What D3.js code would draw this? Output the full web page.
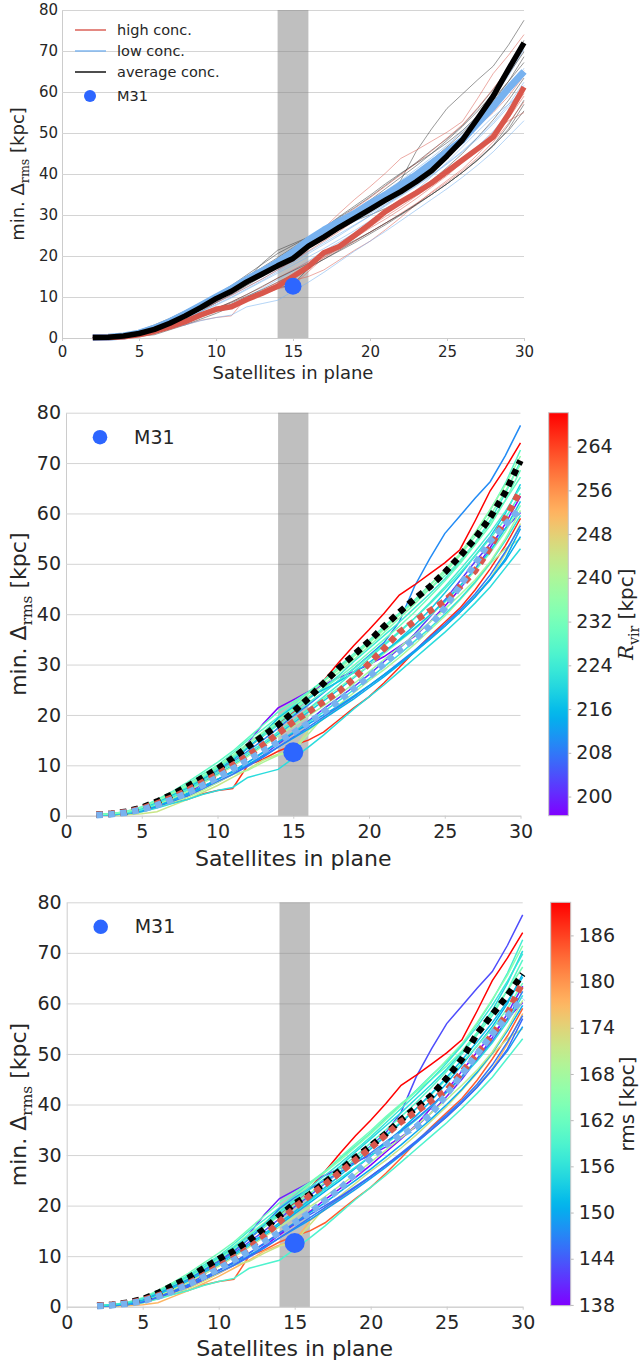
<!DOCTYPE html>
<html>
<head>
<meta charset="utf-8">
<script src="https://cdn.jsdelivr.net/npm/d3@7/dist/d3.min.js"></script>
<style>
  html, body { margin: 0; padding: 0; background: #ffffff; }
  svg text { font-family: "DejaVu Sans", sans-serif; fill: #262626; }
</style>
</head>
<body>
<svg id="fig" width="642" height="1365"></svg>
<script>
// ---------------- data ----------------
const satellites = [2,3,4,5,6,7,8,9,10,11,12,13,14,15,16,17,18,19,20,21,22,23,24,25,26,27,28,29,30];

// minimum plane thickness per halo, one row per host halo
const haloCurves = [
  [0.1,0.2,0.5,1.1,2.2,3.6,5.0,6.8,8.6,10.6,12.8,15.0,17.4,19.8,22.0,24.4,26.8,29.2,31.8,34.4,38.5,45.5,51.0,56.0,59.5,63.0,66.3,71.5,77.5],
  [0.1,0.3,0.6,1.3,2.6,4.0,5.6,7.2,9.0,11.0,13.5,15.8,18.2,20.6,23.4,26.8,30.4,33.8,36.9,40.2,43.8,45.8,48.0,50.2,52.8,58.5,64.5,69.0,74.0],
  [0.1,0.2,0.4,0.9,1.7,2.5,3.2,4.3,5.0,5.4,10.0,11.2,12.8,14.0,15.0,16.6,19.0,21.4,23.6,26.4,29.4,32.6,35.6,38.4,41.2,44.8,49.0,53.6,59.0],
  [0.1,0.2,0.5,1.0,2.0,3.0,4.2,6.4,8.6,11.4,14.4,18.2,21.4,23.0,24.6,26.0,27.4,28.6,30.0,31.6,33.6,35.6,38.4,41.6,45.0,49.0,53.2,58.0,63.4],
  [0.1,0.2,0.4,0.9,1.8,2.8,3.8,5.2,6.6,8.2,10.0,12.0,14.2,16.4,18.8,21.2,23.4,25.6,28.0,30.6,33.2,36.0,39.4,42.8,46.6,50.4,54.0,57.0,60.2],
  [0.2,0.4,0.8,1.6,3.0,4.6,6.2,8.2,10.0,12.4,15.0,17.2,19.6,22.0,24.4,26.8,29.4,31.8,34.4,37.2,40.0,42.8,45.8,48.6,51.8,56.0,60.6,66.0,72.6],
  [0.1,0.3,0.7,1.4,2.8,4.4,6.0,7.8,9.8,12.0,14.4,16.6,19.2,21.6,24.2,26.6,29.0,31.6,34.2,37.0,39.8,42.6,45.6,48.8,52.0,56.2,60.8,65.6,71.4],
  [0.2,0.4,0.8,1.5,2.8,4.2,5.8,7.6,9.6,11.6,13.6,15.8,18.4,20.8,23.2,25.4,27.8,30.6,33.2,35.8,38.4,41.2,44.0,47.0,50.4,54.2,58.6,64.0,70.4],
  [0.1,0.3,0.7,1.4,2.6,4.0,5.6,7.4,9.4,11.4,13.6,16.0,18.6,21.0,23.2,25.2,27.4,29.8,32.4,35.0,37.6,40.4,43.4,46.6,50.0,53.8,57.6,62.6,68.6],
  [0.1,0.2,0.5,1.1,2.2,3.4,4.8,6.4,8.2,10.0,12.0,14.0,16.2,18.4,20.6,22.8,25.0,27.4,29.8,32.4,35.0,37.8,40.8,44.2,47.8,51.6,55.4,60.0,65.8],
  [0.1,0.1,0.2,0.4,0.8,2.0,3.2,4.6,6.0,7.6,9.2,11.0,12.2,13.0,17.0,19.2,21.4,23.6,25.8,28.0,30.2,32.6,35.0,37.6,40.4,43.6,47.0,52.0,58.0],
  [0.1,0.2,0.4,0.8,1.6,2.6,3.6,5.0,6.6,8.2,9.0,10.6,12.0,12.8,16.2,19.6,22.0,24.4,26.8,29.0,31.4,34.0,36.8,39.6,42.8,46.2,50.0,53.0,55.0],
  [0.1,0.2,0.4,0.8,1.5,2.4,3.2,4.2,5.0,5.6,7.6,8.4,9.2,11.4,13.6,16.0,18.6,21.2,23.6,26.0,28.6,31.2,33.8,36.4,39.2,42.2,45.4,49.2,53.0],
  [0.1,0.2,0.5,1.0,2.0,3.2,4.4,5.8,7.2,8.6,10.2,11.8,13.6,15.4,17.2,19.2,21.2,23.2,25.4,27.6,30.0,32.4,35.0,37.6,40.4,43.4,47.0,50.6,55.4],
  [0.2,0.4,0.8,1.5,2.8,4.2,5.8,7.6,9.4,11.4,13.6,15.8,18.0,20.2,22.4,24.6,26.8,29.2,31.6,34.0,36.6,39.2,42.0,45.0,48.2,51.6,55.0,59.0,64.0],
  [0.1,0.3,0.6,1.2,2.4,3.8,5.2,6.8,8.6,10.4,12.4,14.4,16.6,18.8,21.0,23.2,25.4,27.6,29.8,32.2,34.6,37.0,39.6,42.4,45.4,48.6,52.2,56.4,61.6],
  [0.1,0.2,0.4,0.9,1.8,2.8,4.0,5.4,6.8,8.2,9.8,11.6,13.6,15.6,17.6,19.6,21.6,23.6,25.8,28.0,30.4,32.8,35.4,38.0,40.8,44.0,47.8,52.4,57.6],
  [0.1,0.2,0.5,1.0,2.0,3.0,4.2,5.6,7.2,8.8,10.6,12.4,14.6,16.6,18.6,20.6,22.8,25.0,27.2,29.6,32.0,34.6,37.2,40.0,43.0,46.4,50.2,54.6,59.6],
  [0.2,0.4,0.9,1.8,3.2,4.8,6.6,8.6,10.6,12.8,15.4,18.0,20.6,22.6,24.6,26.8,29.6,32.2,34.8,37.6,40.2,42.6,45.0,47.6,50.6,54.2,58.2,62.6,67.2],
  [0.1,0.3,0.6,1.3,2.6,4.0,5.4,7.2,9.0,11.0,13.4,16.2,19.4,21.6,23.4,25.0,26.6,28.4,30.4,32.6,34.8,37.2,39.8,42.6,45.6,49.0,52.6,57.0,62.4],
  [0.1,0.2,0.5,1.1,2.2,3.4,4.8,6.4,8.0,9.8,11.8,13.8,15.8,17.8,19.8,21.8,24.0,26.2,28.6,31.0,33.4,35.8,38.4,41.0,43.8,46.8,50.4,55.0,60.6],
  [0.1,0.2,0.5,1.0,1.9,3.0,4.2,5.6,7.2,8.8,10.6,12.6,14.6,16.4,18.2,20.0,21.8,23.8,25.8,28.0,30.2,32.6,35.0,37.6,40.4,43.4,46.8,51.0,57.0],
  [0.1,0.3,0.6,1.2,2.4,3.8,5.2,6.8,8.6,10.4,12.4,14.4,16.6,18.8,21.2,23.6,26.0,28.6,31.2,33.8,36.4,39.2,42.2,45.4,48.8,52.4,56.2,60.4,65.2],
  [0.2,0.4,0.8,1.6,2.9,4.4,6.0,7.8,9.8,11.8,14.0,16.4,18.8,21.2,23.6,26.0,28.4,31.0,33.6,36.4,39.2,42.0,45.0,48.2,51.6,55.4,59.6,64.4,69.8]
];
const haloRvir = [210, 270.2, 266, 196.5, 202, 228, 236, 224, 231, 218, 244, 240, 221, 214, 226, 233, 208, 222, 229, 217, 238, 213, 225, 234];
const haloRms  = [143, 190.3, 184, 140, 137.9, 158, 165, 155, 160, 151, 177, 172, 159, 149, 162, 156, 146, 150, 163, 147, 170, 145, 152, 157];
const haloConc = ["avg","high","high","avg","low","avg","high","low","avg","low","avg","high","low","avg","high","low","high","high","avg","low","low","avg","high","avg"];

// concentration-group means (top panel)
const meanHigh1 = [0.1,0.1,0.3,0.8,1.6,2.7,4.0,5.6,7.0,7.6,9.4,10.9,12.6,15.0,17.4,20.8,22.3,25.0,27.8,30.8,33.2,35.4,37.8,40.6,43.4,46.2,49.0,54.6,61.2];
const meanLow1  = [0.1,0.2,0.5,1.2,2.4,4.0,5.9,7.9,10.0,12.0,14.3,16.3,18.5,21.0,23.9,26.3,28.4,30.4,32.8,34.9,37.3,39.8,42.6,45.4,48.3,52.4,56.4,60.9,65.0];
const meanAvg1  = [0.1,0.2,0.5,1.1,2.1,3.6,5.4,7.4,9.6,11.4,13.7,15.6,17.6,19.4,22.4,24.6,27.0,29.2,31.4,33.6,35.7,38.1,40.8,44.4,48.3,53.6,59.0,65.6,72.0];
// means shown with the R_vir colouring
const meanAvg2  = [0.2,0.4,0.8,1.6,2.8,4.2,5.8,7.5,9.3,11.4,13.7,15.8,18.0,20.6,23.3,26.3,29.3,31.9,34.6,37.6,40.4,43.0,45.4,48.3,51.5,55.0,59.2,64.2,70.5];
const meanHigh2 = [0.2,0.4,0.7,1.4,2.4,3.6,5.0,6.6,8.2,10.0,11.9,14.0,16.3,18.6,20.6,22.6,24.6,27.2,30.2,33.2,36.4,38.6,40.6,42.6,45.4,48.6,53.2,59.0,64.6];
const meanLow2  = [0.1,0.3,0.6,1.2,2.1,3.2,4.5,6.0,7.6,9.3,11.0,12.8,14.6,16.4,18.4,20.5,22.8,25.2,27.6,30.2,32.8,35.0,37.6,41.2,45.6,50.0,54.5,57.8,61.0];
// means shown with the rms colouring
const meanAvg3  = [0.2,0.4,0.8,1.5,2.7,4.2,5.7,7.6,9.4,11.0,13.1,15.4,18.0,20.4,22.2,24.6,27.0,29.5,31.8,34.2,37.0,39.4,41.8,45.2,49.0,54.0,57.8,61.6,65.8];
const meanHigh3 = [0.2,0.4,0.7,1.3,2.2,3.2,4.6,6.2,8.0,9.6,11.6,14.0,16.8,19.6,22.0,24.2,26.6,29.0,31.4,34.0,36.6,38.6,40.8,42.8,46.4,50.0,53.8,58.0,64.2];
const meanLow3  = [0.1,0.3,0.6,1.1,2.0,3.1,4.4,5.9,7.5,9.2,11.0,12.8,14.8,16.6,18.6,21.0,23.4,26.4,29.4,32.0,34.0,35.6,38.2,42.0,46.0,50.0,54.0,57.5,61.0];

const m31 = { n: 15, value: 12.6 };
const planeBand = [14, 16];
const xTicks = [0, 5, 10, 15, 20, 25, 30];
const yTicks = [0, 10, 20, 30, 40, 50, 60, 70, 80];
const rvirTicks = [200, 208, 216, 224, 232, 240, 248, 256, 264];
const rmsTicks = [138, 144, 150, 156, 162, 168, 174, 180, 186];
const legendLabels = ["high conc.", "low conc.", "average conc.", "M31"];

// ---------------- styling ----------------
const C = {
  text: "#262626", grid: "#d4d4d4", spine: "#cccccc",
  red: "#d9574c", blue: "#78b2ef", black: "#000000",
  m31: "#2d66ff", band: "#808080"
};

// matplotlib "rainbow" colormap
function rainbow(t) {
  const r = Math.min(1, Math.abs(2 * t - 0.5));
  const g = Math.sin(Math.PI * t);
  const b = Math.cos(Math.PI * t / 2);
  return d3.rgb(r * 255, g * 255, b * 255).formatHex();
}

const svg = d3.select("#fig");
const defs = svg.append("defs");
const grad = defs.append("linearGradient").attr("id", "rainbowGrad")
  .attr("x1", 0).attr("y1", 1).attr("x2", 0).attr("y2", 0);
d3.range(0, 1.0001, 0.02).forEach(t => {
  grad.append("stop").attr("offset", t).attr("stop-color", rainbow(t));
});

function frame(p) {
  const x = d3.scaleLinear().domain([0, 30]).range([p.left, p.right]);
  const y = d3.scaleLinear().domain([0, 80]).range([p.bottom, p.top]);
  const g = svg.append("g");

  const ya = g.append("g").attr("transform", `translate(${p.left},0)`)
    .call(d3.axisLeft(y).tickValues(yTicks).tickSize(-(p.right - p.left))
      .tickSizeOuter(0).tickPadding(p.yPad).tickFormat(d3.format("d")));
  ya.attr("font-family", "DejaVu Sans").attr("font-size", p.tick);
  ya.select(".domain").attr("stroke", C.spine);
  ya.selectAll(".tick line").attr("stroke", C.grid).attr("stroke-width", 1);
  ya.selectAll(".tick text").attr("fill", C.text);

  const xa = g.append("g").attr("transform", `translate(0,${p.bottom})`)
    .call(d3.axisBottom(x).tickValues(xTicks).tickSize(3).tickSizeOuter(0)
      .tickPadding(p.xPad).tickFormat(d3.format("d")));
  xa.attr("font-family", "DejaVu Sans").attr("font-size", p.tick);
  xa.select(".domain").attr("stroke", C.spine);
  xa.selectAll(".tick line").attr("stroke", C.spine);
  xa.selectAll(".tick text").attr("fill", C.text);

  g.append("rect")
    .attr("x", x(planeBand[0])).attr("width", x(planeBand[1]) - x(planeBand[0]))
    .attr("y", y(80)).attr("height", y(0) - y(80))
    .attr("fill", C.band).attr("opacity", 0.5);

  // axis titles
  g.append("text").attr("x", (p.left + p.right) / 2).attr("y", p.xLabY)
    .attr("text-anchor", "middle").attr("font-size", p.label)
    .text("Satellites in plane");

  const yl = g.append("text")
    .attr("transform", `translate(${p.yLabX},${(p.top + p.bottom) / 2}) rotate(-90)`)
    .attr("text-anchor", "middle").attr("font-size", p.label);
  yl.append("tspan").text("min. \u0394");
  yl.append("tspan").attr("font-family", "DejaVu Serif").attr("font-size", p.label * 0.7)
    .attr("dy", p.label * 0.28).text("rms");
  yl.append("tspan").attr("dy", -p.label * 0.28).text(" [kpc]");

  const line = d3.line().x((d, i) => x(satellites[i])).y(d => y(d));
  return { g, x, y, line };
}

function m31Point(f, r) {
  f.g.append("circle").attr("cx", f.x(m31.n)).attr("cy", f.y(m31.value))
    .attr("r", r).attr("fill", C.m31);
}

function dotted(f, values, color) {
  f.g.append("path").datum(values).attr("d", f.line)
    .attr("fill", "none").attr("stroke", color).attr("stroke-width", 6.5)
    .attr("stroke-dasharray", "6.5,5.5").attr("stroke-linecap", "butt");
}

function colorbar(p, values, ticks, labelFn) {
  const ext = d3.extent(values);
  const s = d3.scaleLinear().domain(ext).range([p.bottom, p.top]);
  const g = svg.append("g");
  g.append("rect").attr("x", p.left).attr("y", p.top)
    .attr("width", p.right - p.left).attr("height", p.bottom - p.top)
    .attr("fill", "url(#rainbowGrad)").attr("stroke", "#c8c8c8").attr("stroke-width", 1);
  const a = g.append("g").attr("transform", `translate(${p.right},0)`)
    .call(d3.axisRight(s).tickValues(ticks).tickSize(3).tickSizeOuter(0).tickPadding(5));
  a.attr("font-family", "DejaVu Sans").attr("font-size", p.tick);
  a.select(".domain").remove();
  a.selectAll(".tick line").attr("stroke", "#bbbbbb");
  a.selectAll(".tick text").attr("fill", C.text);
  const t = g.append("text")
    .attr("transform", `translate(${p.labX},${(p.top + p.bottom) / 2}) rotate(-90)`)
    .attr("text-anchor", "middle").attr("font-size", p.label);
  labelFn(t, p.label);
  return d3.scaleLinear().domain(ext).range([0, 1]);
}

// ---------------- top panel: concentration groups ----------------
const f1 = frame({ left: 62, right: 524, top: 10, bottom: 338, tick: 15, label: 18,
                   yPad: 4, xPad: 5, xLabY: 379, yLabX: 24 });
const thinStyle = {
  high: { color: C.red, op: 0.5 },
  low:  { color: C.blue, op: 0.55 },
  avg:  { color: "#333333", op: 0.5 }
};
haloCurves.forEach((c, i) => {
  const st = thinStyle[haloConc[i]];
  f1.g.append("path").datum(c).attr("d", f1.line).attr("fill", "none")
    .attr("stroke", st.color).attr("stroke-opacity", st.op).attr("stroke-width", 1);
});
f1.g.append("path").datum(meanLow1).attr("d", f1.line).attr("fill", "none")
  .attr("stroke", C.blue).attr("stroke-width", 7).attr("stroke-linejoin", "round");
f1.g.append("path").datum(meanHigh1).attr("d", f1.line).attr("fill", "none")
  .attr("stroke", C.red).attr("stroke-width", 5.5).attr("stroke-linejoin", "round");
f1.g.append("path").datum(meanAvg1).attr("d", f1.line).attr("fill", "none")
  .attr("stroke", C.black).attr("stroke-width", 5.5).attr("stroke-linejoin", "round");
m31Point(f1, 8.5);

// legend
const lg = f1.g.append("g").attr("font-size", 14.5);
const legendColors = [C.red, C.blue, "#222222"];
legendColors.forEach((col, i) => {
  const yy = 30 + i * 21;
  lg.append("line").attr("x1", 75).attr("x2", 106).attr("y1", yy).attr("y2", yy)
    .attr("stroke", col).attr("stroke-width", i === 2 ? 1.6 : 1.4);
  lg.append("text").attr("x", 117).attr("y", yy).attr("dy", "0.35em").text(legendLabels[i]);
});
lg.append("circle").attr("cx", 90).attr("cy", 96).attr("r", 6).attr("fill", C.m31);
lg.append("text").attr("x", 117).attr("y", 96).attr("dy", "0.35em").text(legendLabels[3]);

// ---------------- coloured panels ----------------
function colouredPanel(p, cb, colourValues, ticks, labelFn, means) {
  const f = frame(p);
  const norm = colorbar(cb, colourValues, ticks, labelFn);
  haloCurves.forEach((c, i) => {
    f.g.append("path").datum(c).attr("d", f.line).attr("fill", "none")
      .attr("stroke", rainbow(norm(colourValues[i]))).attr("stroke-width", 1.5);
  });
  dotted(f, means[0], C.black);
  dotted(f, means[1], C.red);
  dotted(f, means[2], C.blue);
  m31Point(f, 10);
  const ly = p.top + 24.5;
  f.g.append("circle").attr("cx", p.left + 34).attr("cy", ly).attr("r", 7.3).attr("fill", C.m31);
  f.g.append("text").attr("x", p.left + 68).attr("y", ly).attr("dy", "0.35em")
    .attr("font-size", p.tick).text(legendLabels[3]);
}

colouredPanel(
  { left: 66, right: 520.5, top: 412.7, bottom: 815.7, tick: 19, label: 22,
    yPad: 5, xPad: 6, xLabY: 866, yLabX: 26 },
  { left: 548.7, right: 568.3, top: 412.7, bottom: 815.7, tick: 19, label: 20, labX: 633 },
  haloRvir, rvirTicks,
  (t, fs) => {
    t.append("tspan").attr("font-family", "DejaVu Serif").attr("font-style", "italic").text("R");
    t.append("tspan").attr("font-family", "DejaVu Serif").attr("font-size", fs * 0.7)
      .attr("dy", fs * 0.28).text("vir");
    t.append("tspan").attr("dy", -fs * 0.28).text(" [kpc]");
  },
  [meanAvg2, meanHigh2, meanLow2]
);

colouredPanel(
  { left: 66.7, right: 522.7, top: 902.3, bottom: 1306.7, tick: 19, label: 22,
    yPad: 5, xPad: 6, xLabY: 1356, yLabX: 26 },
  { left: 550.7, right: 570.7, top: 902.3, bottom: 1305.7, tick: 19, label: 20, labX: 634 },
  haloRms, rmsTicks,
  (t) => { t.text("rms [kpc]"); },
  [meanAvg3, meanHigh3, meanLow3]
);
</script>
</body>
</html>
